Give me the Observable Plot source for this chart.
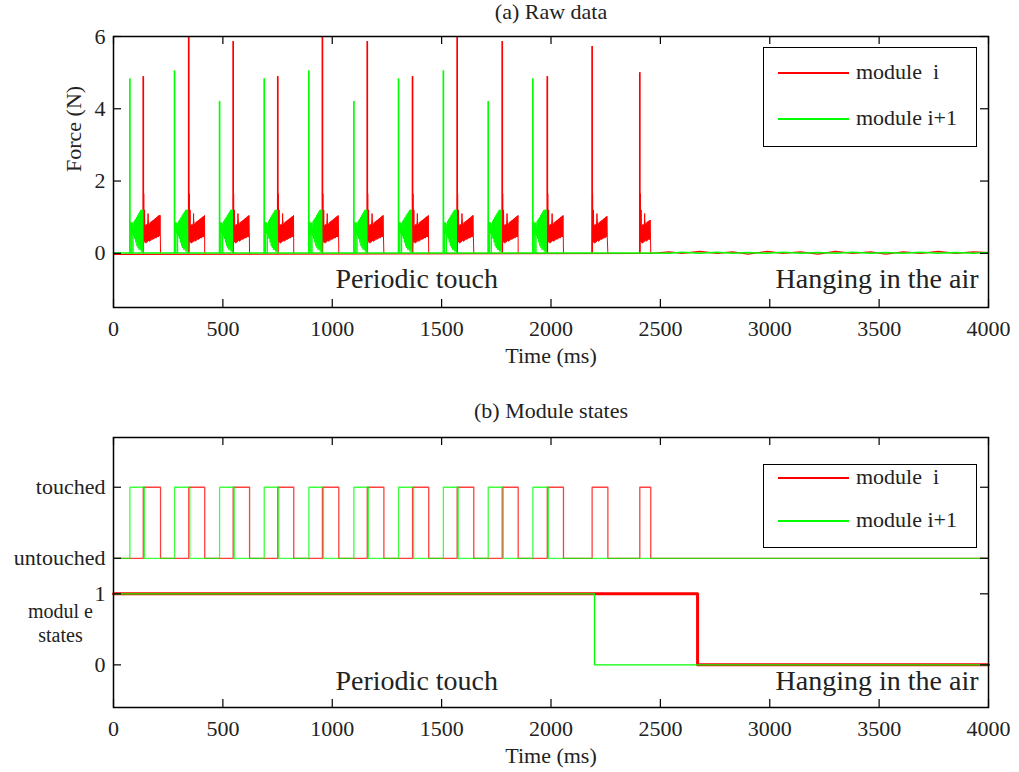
<!DOCTYPE html>
<html>
<head>
<meta charset="utf-8">
<script src="https://cdn.jsdelivr.net/npm/d3@7"></script>
<script src="https://cdn.jsdelivr.net/npm/@observablehq/plot@0.6"></script>
<style>
  body { margin: 0; background: #fff; }
  #wrap { position: relative; width: 1019px; height: 772px; background: #fff;
          font-family: "Liberation Serif", "Times New Roman", serif; color: #222; }
  #top, #bot { position: absolute; left: 0; }
  #top { top: 0; }
  #bot { top: 380px; }
  .legend { position: absolute; border: 1.5px solid #000; background: #fff; box-sizing: border-box; }
  .lg-line { position: absolute; height: 2px; }
  .lg-text { position: absolute; font-size: 22px; line-height: 22px; white-space: pre; color: #222; }
</style>
</head>
<body>
<div id="wrap"><div id="top"></div><div id="bot"></div></div>
<script>
// ---------------- data ----------------
const xTicks = [0, 500, 1000, 1500, 2000, 2500, 3000, 3500, 4000];
const forceTicks = [0, 2, 4, 6];
const stateTickValues = [0, 1, 1.5, 2.5];
const stateTickLabels = ["0", "1", "untouched", "touched"];

const moduleNames = ["module  i", "module i+1"];
const moduleColors = ["#ff0000", "#00ff00"];

// module i (red): touch start / end (ms) and spike force (N)
const redRise = [136, 344, 547, 751, 955, 1160, 1367, 1571, 1777, 1983, 2188, 2406];
const redFall = [215, 417, 622, 824, 1030, 1236, 1441, 1647, 1850, 2057, 2260, 2456];
const redPeak = [4.89, 6.3, 5.86, 4.89, 6.3, 5.86, 4.89, 6.3, 5.86, 4.89, 5.72, 5.0];

// module i+1 (green): touch start / end (ms) and spike force (N)
const greenRise = [75, 279, 485, 689, 893, 1099, 1303, 1508, 1713, 1917];
const greenFall = [141, 349, 552, 756, 960, 1165, 1372, 1576, 1782, 1988];
const greenPeak = [4.83, 5.05, 4.2, 4.83, 5.05, 4.2, 4.83, 5.05, 4.2, 4.83];

// force band after each spike: offset (ms), low / high envelope (N)
const redBandOffset = [1, 3, 6, 9, 12, 16, 20, 25, 30, 35, 40, 45, 50, 55, 60, 65, 70, 75, 80];
const redBandLow    = [0.3, 0.3, 0.3, 0.3, 0.3, 0.3, 0.32, 0.33, 0.35, 0.36, 0.38, 0.39, 0.4, 0.42, 0.43, 0.45, 0.46, 0.48, 0.48];
const redBandHigh   = [1.6, 1.3, 1.0, 0.75, 0.78, 0.75, 0.8, 0.95, 0.8, 0.85, 0.86, 0.9, 0.92, 0.95, 0.97, 1.0, 1.02, 1.04, 1.05];
// sawtooth trace inside the red band: offset (ms), force (N)
const redTraceOffset = [1, 2, 4, 6, 8, 10, 12, 14, 16, 18, 20, 22, 24, 27, 29, 32, 34, 37, 39, 42, 44, 47, 49, 52, 54, 57, 59, 62, 64, 67, 69, 72, 74, 77, 79];
const redTraceValue  = [0.3, 1.65, 0.35, 1.2, 0.3, 0.75, 0.28, 0.8, 0.3, 0.78, 0.32, 1.1, 0.35, 0.8, 0.33, 0.85, 0.35, 0.88, 0.38, 0.9, 0.38, 0.92, 0.4, 0.95, 0.42, 0.97, 0.42, 1.0, 0.45, 1.02, 0.45, 1.05, 0.48, 1.05, 0.48];

const greenBandOffset = [1, 4, 8, 12, 16, 20, 25, 30, 35, 40, 45, 50, 55, 58, 62];
const greenBandLow    = [0.6, 0.6, 0.58, 0.55, 0.5, 0.45, 0.4, 0.35, 0.3, 0.25, 0.2, 0.15, 0.1, 0.1, 0.1];
const greenBandHigh   = [0.88, 0.85, 0.85, 0.82, 0.8, 0.85, 0.9, 0.95, 1.0, 1.05, 1.1, 1.15, 1.2, 1.2, 1.2];
// noisy trace inside the green band: offset (ms), force (N)
const greenTraceOffset = [1, 3, 5, 6, 7, 9, 11, 13, 14, 15, 18, 20, 22, 25, 27, 30, 32, 35, 37, 40, 42, 45, 47, 50, 52, 55, 57, 59, 61];
const greenTraceValue  = [0.8, 0.6, 0.85, 0.0, 0.75, 0.55, 0.85, 0.6, 0.0, 0.7, 0.5, 0.9, 0.4, 0.95, 0.3, 1.0, 0.2, 1.05, 0.15, 1.1, 0.1, 1.15, 0.1, 1.2, 0.05, 1.2, 0.05, 1.2, 0.0];

// baseline (no contact)
const baseT     = [0, 2460, 2540, 2600, 2680, 2760, 2830, 2900, 2990, 3060, 3140, 3220, 3300, 3380, 3460, 3530, 3610, 3690, 3770, 3850, 3930, 4000];
const baseRed   = [-0.03, 0, 0.04, 0, 0.05, 0, 0.04, -0.02, 0.05, 0, 0.04, -0.02, 0.05, 0, 0.04, -0.02, 0.04, 0, 0.05, 0, 0.04, 0.02];
const baseGreen = [0.01, 0.01, 0, 0.03, 0, 0.03, 0, 0.02, 0, 0.03, 0, 0.02, 0, 0.03, 0, 0.02, 0, 0.03, 0, 0.02, 0, 0.02];

// module state: 1 until this time, then 0   [module i, module i+1]
const stateDropT = [2670, 2199];
const UNTOUCHED = 1.5, TOUCHED = 2.5;

// ---------------- build tables ----------------
const RED = moduleColors[0], GREEN = moduleColors[1];
const baseRows = baseT.map((t, i) => ({t, red: baseRed[i], green: baseGreen[i]}));

function bands(rise, endT, off, lo, hi) {
  const rows = [];
  rise.forEach((t0, k) => {
    const end = endT[k];
    let last = 0;
    off.forEach((o, j) => {
      if (t0 + o < end) { rows.push({burst: k, t: t0 + o, lo: lo[j], hi: hi[j]}); last = j; }
    });
    rows.push({burst: k, t: end, lo: lo[last], hi: hi[last]});
  });
  return rows;
}
function traces(rise, endT, off, val) {
  const rows = [];
  rise.forEach((t0, k) => {
    const end = endT[k];
    rows.push({burst: k, t: t0, f: 0});
    off.forEach((o, j) => { if (t0 + o < end) rows.push({burst: k, t: t0 + o, f: val[j]}); });
    rows.push({burst: k, t: end, f: 0});
  });
  return rows;
}
const redBands = bands(redRise, redFall, redBandOffset, redBandLow, redBandHigh);
const greenBands = bands(greenRise, redRise, greenBandOffset, greenBandLow, greenBandHigh);
const redTraces = traces(redRise, redFall, redTraceOffset, redTraceValue);
const greenTraces = traces(greenRise, redRise, greenTraceOffset, greenTraceValue);
const redSpikes = redRise.map((t, i) => ({t, f: redPeak[i]}));
const greenSpikes = greenRise.map((t, i) => ({t, f: greenPeak[i]}));

function stepSeries(rise, fall) {
  const pts = [{t: 0, v: UNTOUCHED}];
  rise.forEach((r, i) => { pts.push({t: r, v: TOUCHED}); pts.push({t: fall[i], v: UNTOUCHED}); });
  pts.push({t: 4000, v: UNTOUCHED});
  return pts;
}
const redStep = stepSeries(redRise, redFall);
const greenStep = stepSeries(greenRise, greenFall);
const stateSeries = d => [{t: 0, v: 1}, {t: d, v: 0}, {t: 4000, v: 0}];
const redState = stateSeries(stateDropT[0]);
const greenState = stateSeries(stateDropT[1]);

// ---------------- layout helpers ----------------
const W = 1019, ML = 113, MR = 31;
const frameW = W - ML - MR;
const FONT = '"Liberation Serif", "Times New Roman", serif';
const style = {fontFamily: FONT, fontSize: "22px", color: "#222", background: "white", overflow: "visible"};
const fmt = d => String(d);

function boxTicks(yTicks, frameH) {
  const s = {stroke: "#000", strokeWidth: 1.2};
  return [
    Plot.ruleX(xTicks, {x: d => d, insetTop: frameH - 8, ...s}),
    Plot.ruleX(xTicks, {x: d => d, insetBottom: frameH - 8, ...s}),
    Plot.ruleY(yTicks, {y: d => d, insetRight: frameW - 8, ...s}),
    Plot.ruleY(yTicks, {y: d => d, insetLeft: frameW - 8, ...s})
  ];
}

// ---------------- top panel ----------------
const topH = 380, topMT = 36, topMB = 73;
const topPlot = Plot.plot({
  width: W, height: topH,
  marginTop: topMT, marginBottom: topMB, marginLeft: ML, marginRight: MR,
  x: {domain: [0, 4000], label: null},
  y: {domain: [-1.5, 6], label: null},
  style,
  marks: [
    Plot.line(baseRows, {x: "t", y: "red", stroke: RED, strokeWidth: 1.3}),
    Plot.areaY(redBands, {x: "t", y1: "lo", y2: "hi", z: "burst", fill: RED, fillOpacity: 0.8}),
    Plot.line(redTraces, {x: "t", y: "f", z: "burst", stroke: RED, strokeWidth: 1}),
    Plot.ruleX(redSpikes, {x: "t", y1: 0, y2: "f", stroke: RED, strokeWidth: 1.7, clip: true}),
    Plot.line(baseRows, {x: "t", y: "green", stroke: GREEN, strokeWidth: 1.5}),
    Plot.areaY(greenBands, {x: "t", y1: "lo", y2: "hi", z: "burst", fill: GREEN, fillOpacity: 0.75}),
    Plot.line(greenTraces, {x: "t", y: "f", z: "burst", stroke: GREEN, strokeWidth: 1}),
    Plot.ruleX(greenSpikes, {x: "t", y1: 0, y2: "f", stroke: GREEN, strokeWidth: 1.7, clip: true}),
    Plot.frame({stroke: "#000", strokeWidth: 1.5}),
    ...boxTicks(forceTicks, topH - topMT - topMB),
    Plot.axisX(xTicks, {tickSize: 0, tickPadding: 13, fontSize: 22, tickFormat: fmt}),
    Plot.axisY(forceTicks, {tickSize: 0, tickPadding: 8, fontSize: 22, tickFormat: fmt}),
    Plot.text(["(a) Raw data"], {frameAnchor: "top", dy: -18, lineAnchor: "bottom", fontSize: 22}),
    Plot.text(["Force (N)"], {frameAnchor: "left", dx: -40, rotate: -90, fontSize: 22}),
    Plot.text(["Time (ms)"], {frameAnchor: "bottom", dy: 55, lineAnchor: "bottom", fontSize: 22}),
    Plot.text(["Periodic touch"], {frameAnchor: "bottom-left", dx: 222, dy: -20, lineAnchor: "bottom", textAnchor: "start", fontSize: 28}),
    Plot.text(["Hanging in the air"], {frameAnchor: "bottom-right", dx: -10, dy: -20, lineAnchor: "bottom", textAnchor: "end", fontSize: 28})
  ]
});
document.getElementById("top").appendChild(topPlot);

// ---------------- bottom panel ----------------
const botH = 392, botMT = 57, botMB = 65;
const botPlot = Plot.plot({
  width: W, height: botH,
  marginTop: botMT, marginBottom: botMB, marginLeft: ML, marginRight: MR,
  x: {domain: [0, 4000], label: null},
  y: {domain: [-0.6, 3.2], label: null},
  style,
  marks: [
    Plot.line(redStep, {x: "t", y: "v", curve: "step-after", stroke: RED, strokeWidth: 1.3, strokeOpacity: 0.75}),
    Plot.line(greenStep, {x: "t", y: "v", curve: "step-after", stroke: GREEN, strokeWidth: 1.3, strokeOpacity: 0.75}),
    Plot.line(redState, {x: "t", y: "v", curve: "step-after", stroke: RED, strokeWidth: 3}),
    Plot.line(greenState, {x: "t", y: "v", curve: "step-after", stroke: GREEN, strokeWidth: 1.3}),
    Plot.frame({stroke: "#000", strokeWidth: 1.5}),
    ...boxTicks(stateTickValues, botH - botMT - botMB),
    Plot.axisX(xTicks, {tickSize: 0, tickPadding: 13, fontSize: 22, tickFormat: fmt}),
    Plot.axisY(stateTickValues, {tickSize: 0, tickPadding: 8, fontSize: 22,
      tickFormat: d => stateTickLabels[stateTickValues.indexOf(d)]}),
    Plot.text(["(b) Module states"], {frameAnchor: "top", dy: -20, lineAnchor: "bottom", fontSize: 22}),
    Plot.text(["modul e"], {frameAnchor: "top-left", dx: -53, dy: 180, lineAnchor: "bottom", textAnchor: "middle", fontSize: 20}),
    Plot.text(["states"], {frameAnchor: "top-left", dx: -53, dy: 204, lineAnchor: "bottom", textAnchor: "middle", fontSize: 20}),
    Plot.text(["Time (ms)"], {frameAnchor: "bottom", dy: 55, lineAnchor: "bottom", fontSize: 22}),
    Plot.text(["Periodic touch"], {frameAnchor: "bottom-left", dx: 222, dy: -18, lineAnchor: "bottom", textAnchor: "start", fontSize: 28}),
    Plot.text(["Hanging in the air"], {frameAnchor: "bottom-right", dx: -10, dy: -18, lineAnchor: "bottom", textAnchor: "end", fontSize: 28})
  ]
});
document.getElementById("bot").appendChild(botPlot);

// ---------------- legends ----------------
function legend(left, top, width, height, rowY) {
  const box = document.createElement("div");
  box.className = "legend";
  Object.assign(box.style, {left: left + "px", top: top + "px", width: width + "px", height: height + "px"});
  moduleNames.forEach((name, i) => {
    const ln = document.createElement("div");
    ln.className = "lg-line";
    Object.assign(ln.style, {left: "14px", width: "71px", top: (rowY[i] - 1) + "px", backgroundColor: moduleColors[i]});
    const tx = document.createElement("div");
    tx.className = "lg-text";
    Object.assign(tx.style, {left: "92px", top: (rowY[i] - 12) + "px"});
    tx.textContent = name;
    box.appendChild(ln); box.appendChild(tx);
  });
  document.getElementById("wrap").appendChild(box);
}
legend(763, 47, 214, 100, [25, 71]);
legend(763, 464, 214, 84, [13, 56]);
</script>
</body>
</html>
